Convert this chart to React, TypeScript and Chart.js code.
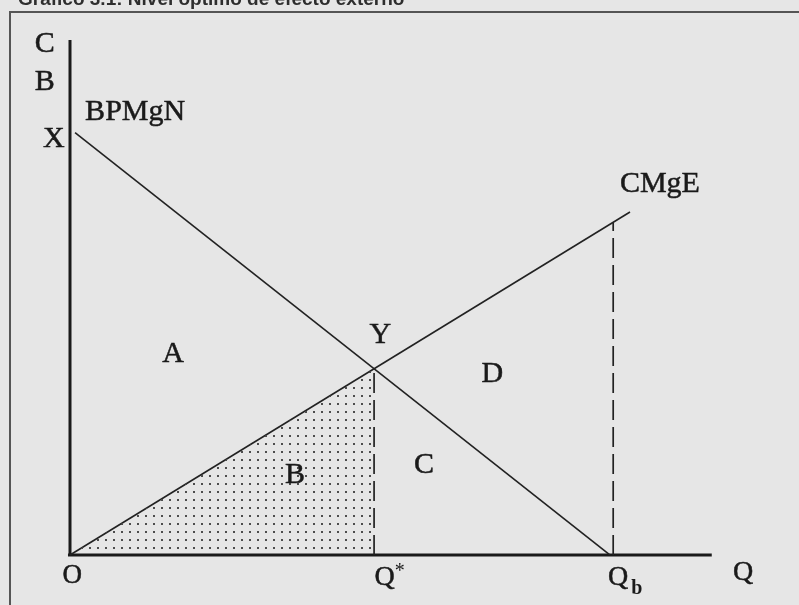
import React, { useEffect, useRef } from "react";
import { Chart, registerables } from "chart.js";

Chart.register(...registerables);

// ---- data (economic diagram, arbitrary units) ----
const xAxisQ = [0, 114.6];
const yAxisP = [0, 100];
const bpmgnQ = [0.9, 96.4];
const bpmgnP = [82, 0];
const cmgeQ = [0, 100];
const cmgeP = [0, 66.6];
const optimumQ = 54.3; // Q*
const optimumP = 36.15; // Y
const qbQ = 97; // Qb dashed guide
const qbTopP = 64.6;

const titleText = "Gráfico 3.1: Nivel óptimo de efecto externo";

type Lbl = { t: string; x: number; y: number; size: number; align?: CanvasTextAlign };
const labels: Lbl[] = [
  { t: "C", x: -4.5, y: 97.7, size: 30 },
  { t: "B", x: -4.5, y: 90.3, size: 30 },
  { t: "X", x: -2.9, y: 79.2, size: 30 },
  { t: "BPMgN", x: 2.7, y: 84.5, size: 30, align: "left" },
  { t: "CMgE", x: 98.2, y: 70.5, size: 30, align: "left" },
  { t: "Y", x: 55.4, y: 41.2, size: 30 },
  { t: "A", x: 18.4, y: 37.5, size: 30 },
  { t: "D", x: 75.4, y: 33.6, size: 30 },
  { t: "B", x: 40.2, y: 14.0, size: 30 },
  { t: "C", x: 63.2, y: 15.9, size: 30 },
  { t: "O", x: 0.4, y: -5.4, size: 27 },
  { t: "Q", x: 56.2, y: -5.8, size: 28 },
  { t: "Q", x: 97.9, y: -5.8, size: 28 },
  { t: "Q", x: 120.2, y: -4.9, size: 28 },
];

const X_MIN = -12.5, X_MAX = 130.18, Y_MIN = -9.71, Y_MAX = 107.77;
const INK = "#222";

function makeDots(): CanvasPattern | string {
  const c = document.createElement("canvas");
  c.width = 8; c.height = 8;
  const g = c.getContext("2d");
  if (!g) return "rgba(0,0,0,0.2)";
  g.fillStyle = "#4d4d4d";
  g.fillRect(1, 3, 2, 2);
  const ctx = document.createElement("canvas").getContext("2d")!;
  return ctx.createPattern(c, "repeat") as CanvasPattern;
}

function pts(xs: number[], ys: number[]) {
  return xs.map((x, i) => ({ x, y: ys[i] }));
}

export default function App() {
  const ref = useRef<HTMLCanvasElement>(null);
  useEffect(() => {
    if (!ref.current) return;
    const bgPlugin = {
      id: "bg",
      beforeDraw(chart: any) {
        const { ctx, width, height } = chart;
        ctx.save();
        ctx.fillStyle = "#e6e6e6";
        ctx.fillRect(0, 0, width, height);
        // title (cut off at top)
        ctx.fillStyle = "#2e2e2e";
        ctx.font = 'bold 19px "Liberation Sans", Arial, sans-serif';
        ctx.textAlign = "left";
        ctx.textBaseline = "alphabetic";
        ctx.fillText(titleText, 18, 5);
        // frame
        ctx.strokeStyle = "#555";
        ctx.lineWidth = 2;
        ctx.beginPath();
        ctx.moveTo(10, height);
        ctx.lineTo(10, 12);
        ctx.lineTo(width, 12);
        ctx.stroke();
        ctx.restore();
      },
    };
    const labelPlugin = {
      id: "lbls",
      afterDatasetsDraw(chart: any) {
        const { ctx } = chart;
        const xs = chart.scales.x, ys = chart.scales.y;
        ctx.save();
        ctx.fillStyle = "#1a1a1a";
        ctx.strokeStyle = "#1a1a1a";
        ctx.lineWidth = 0.5;
        ctx.textBaseline = "alphabetic";
        labels.forEach((l) => {
          ctx.font = `${l.size}px "Liberation Serif", "Times New Roman", serif`;
          ctx.textAlign = l.align || "center";
          const px = xs.getPixelForValue(l.x), py = ys.getPixelForValue(l.y);
          ctx.fillText(l.t, px, py);
          ctx.strokeText(l.t, px, py);
        });
        // superscript star for Q*
        ctx.font = `20px "Liberation Serif", serif`;
        ctx.textAlign = "left";
        ctx.fillText("*", xs.getPixelForValue(56.2) + 10, ys.getPixelForValue(-5.8) - 8);
        // subscript b for Qb
        ctx.font = `bold 20px "Liberation Serif", serif`;
        ctx.fillText("b", xs.getPixelForValue(97.9) + 13, ys.getPixelForValue(-5.8) + 9);
        ctx.restore();
      },
    };
    const line = (data: any[], extra: any = {}) => ({
      data,
      showLine: true,
      borderColor: INK,
      borderWidth: 1.6,
      pointRadius: 0,
      fill: false,
      clip: false,
      ...extra,
    });
    const chart = new Chart(ref.current, {
      type: "scatter",
      data: {
        datasets: [
          line(pts([0, optimumQ], [0, optimumP]), {
            fill: "origin",
            backgroundColor: makeDots(),
            borderWidth: 0,
            borderColor: "rgba(0,0,0,0)",
          }),
          line(pts(bpmgnQ, bpmgnP)),
          line(pts(cmgeQ, cmgeP)),
          line(pts([optimumQ, optimumQ], [0, optimumP]), { borderDash: [20, 7], borderWidth: 1.7 }),
          line(pts([qbQ, qbQ], [0, qbTopP]), { borderDash: [20, 7], borderWidth: 1.7 }),
          line(pts([0, 0], yAxisP), { borderWidth: 3, borderColor: "#1a1a1a" }),
          line(pts([-0.36, xAxisQ[1]], [0, 0]), { borderWidth: 3.2, borderColor: "#1a1a1a" }),
        ],
      },
      options: {
        responsive: false,
        animation: false,
        devicePixelRatio: 1,
        layout: { padding: 0 },
        plugins: { legend: { display: false }, tooltip: { enabled: false }, title: { display: false } },
        events: [],
        scales: {
          x: { type: "linear", min: X_MIN, max: X_MAX, display: false },
          y: { type: "linear", min: Y_MIN, max: Y_MAX, display: false },
        },
      },
      plugins: [bgPlugin, labelPlugin],
    });
    return () => chart.destroy();
  }, []);
  return (
    <div style={{ position: "fixed", left: 0, top: 0, width: 799, height: 605, background: "#e6e6e6" }}>
      <canvas ref={ref} width={799} height={605} style={{ display: "block", width: 799, height: 605 }} />
    </div>
  );
}
